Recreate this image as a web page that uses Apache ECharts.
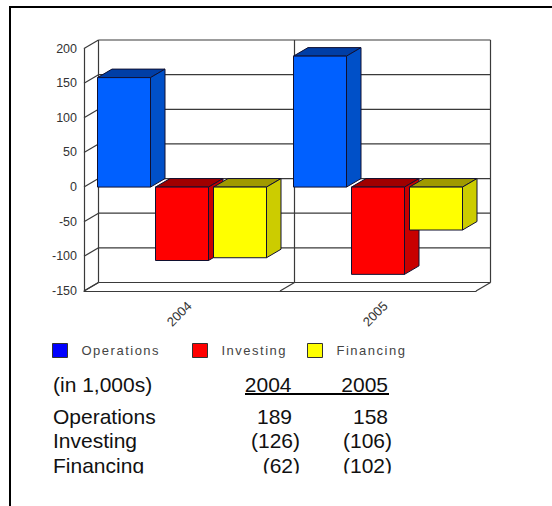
<!DOCTYPE html>
<html>
<head>
<meta charset="utf-8">
<script src="https://cdn.jsdelivr.net/npm/echarts@6/dist/echarts.min.js"></script>
<style>
  html, body { margin: 0; padding: 0; background: #fff; }
  #chart { width: 552px; height: 506px; }
  /* legend captions are set with wide tracking */
  #chart text[fill="#444"] { letter-spacing: 1.5px; }
</style>
</head>
<body>
<div id="chart"></div>
<script>
// Cash flow data
const years = ['2004', '2005'];
const seriesNames = ['Operations', 'Investing', 'Financing'];
const operations = [158, 189];
const investing = [-106, -126];
const financing = [-102, -62];
const yTicks = [-150, -100, -50, 0, 50, 100, 150, 200];

// Statement table under the chart
const tableUnit = '(in 1,000s)';
const tableYears = ['2004', '2005'];
const tableLabels = ['Operations', 'Investing', 'Financing'];
const table2004 = ['189', '(126)', '(62)'];
const table2005 = ['158', '(106)', '(102)'];

// Face colours per series: front, top, side, legend swatch
const palette = [
  { front: '#0060ff', top: '#003ea6', side: '#0050c8', swatch: '#0000ff' },
  { front: '#ff0000', top: '#a00000', side: '#c80000', swatch: '#ff0000' },
  { front: '#ffff00', top: '#a09a00', side: '#cccc00', swatch: '#ffff00' }
];

// Oblique projection used for the pseudo-3D box
const DX = 14.5, DY = -8.5;
const BAR_RATIO = 53 / 196, GAP_RATIO = 5 / 196;
const WALL = '#3a3a3a';
const EDGE = { stroke: '#101030', lineWidth: 1, lineJoin: 'miter' };

const seg = (x1, y1, x2, y2, color) => ({
  type: 'line',
  shape: { x1, y1, x2, y2 },
  style: { stroke: color || WALL, lineWidth: 1.2 }
});

// One horizontal wall line plus its diagonal per y tick
function renderTick(params, api) {
  const v = api.value(0);
  const p = api.coord([0, v]);
  const band = api.size([1, 0])[0];
  const x0 = p[0] - band / 2;
  const x1 = x0 + band * years.length;
  const y = p[1];
  return {
    type: 'group',
    children: [
      seg(x0, y, x0 + DX, y + DY),
      seg(x0 + DX, y + DY, x1 + DX, y + DY)
    ]
  };
}

// Walls: left, divider and right verticals, floor diagonals
function renderWall(params, api) {
  const i = api.value(0);
  const top = api.coord([0, 200])[1];
  const bottom = api.coord([0, -150])[1];
  const band = api.size([1, 0])[0];
  const x = api.coord([0, 0])[0] - band / 2 + band * i;
  return {
    type: 'group',
    children: [
      seg(x + DX, top + DY, x + DX, bottom + DY),
      seg(x, bottom, x + DX, bottom + DY)
    ]
  };
}

// A box drawn from its value on the front plane of the plot
function makeBox(seriesIndex) {
  return function (params, api) {
    const cat = api.value(0);
    const val = api.value(1);
    const c = palette[seriesIndex];
    const band = api.size([1, 0])[0];
    const w = band * BAR_RATIO;
    const gap = band * GAP_RATIO;
    const groupW = w * 3 + gap * 2;
    const center = api.coord([cat, 0])[0];
    const x0 = center - groupW / 2 + seriesIndex * (w + gap);
    const x1 = x0 + w;
    const yVal = api.coord([cat, val])[1];
    const yZero = api.coord([cat, 0])[1];
    const yTop = Math.min(yVal, yZero);
    const yBot = Math.max(yVal, yZero);
    return {
      type: 'group',
      children: [
        {
          type: 'polygon',
          shape: { points: [[x0, yTop], [x1, yTop], [x1 + DX, yTop + DY], [x0 + DX, yTop + DY]] },
          style: Object.assign({ fill: c.top }, EDGE)
        },
        {
          type: 'polygon',
          shape: { points: [[x1, yTop], [x1 + DX, yTop + DY], [x1 + DX, yBot + DY], [x1, yBot]] },
          style: Object.assign({ fill: c.side }, EDGE)
        },
        {
          type: 'rect',
          shape: { x: x0, y: yTop, width: w, height: yBot - yTop },
          style: Object.assign({ fill: c.front }, EDGE)
        }
      ]
    };
  };
}

const valueSets = [operations, investing, financing];

const boxSeries = seriesNames.map((name, s) => ({
  name,
  type: 'custom',
  coordinateSystem: 'cartesian2d',
  renderItem: makeBox(s),
  encode: { x: 0, y: 1 },
  itemStyle: { color: palette[s].swatch },
  data: years.map((y, i) => [i, valueSets[s][i]]),
  z: 5 + s,
  silent: true,
  clip: false
}));

const legendPositions = [52, 192, 307];
const legends = seriesNames.map((name, s) => ({
  show: true,
  left: legendPositions[s],
  top: 343,
  padding: 0,
  itemWidth: 15,
  itemHeight: 14,
  icon: 'rect',
  selectedMode: false,
  data: [{
    name,
    itemStyle: { color: palette[s].swatch, borderColor: '#333', borderWidth: 1 }
  }],
  textStyle: {
    color: '#444',
    fontFamily: 'Liberation Sans',
    fontSize: 13,
    padding: [0, 0, 0, 9]
  }
}));

// Table text, anchored on its baseline rows
const FONT = '21px "Liberation Sans"';
const headY = 384;
const rowY = [416, 440.5, 465];
const txt = (x, y, text, align) => ({
  type: 'text',
  z: 20,
  style: {
    x, y, text,
    font: FONT,
    fill: '#111',
    align: align || 'left',
    verticalAlign: 'middle'
  }
});

const tableItems = [
  txt(53, headY, tableUnit),
  txt(291.5, headY, tableYears[0], 'right'),
  txt(388, headY, tableYears[1], 'right'),
  {
    type: 'rect',
    z: 20,
    shape: { x: 245, y: 393, width: 144, height: 2 },
    style: { fill: '#000' }
  }
];
tableLabels.forEach((label, r) => {
  const inParens = table2004[r].startsWith('(');
  tableItems.push(txt(53, rowY[r], label));
  tableItems.push(txt(inParens ? 300 : 292, rowY[r], table2004[r], 'right'));
  tableItems.push(txt(table2005[r].startsWith('(') ? 392 : 388, rowY[r], table2005[r], 'right'));
});

const chart = echarts.init(document.getElementById('chart'), null, { renderer: 'svg' });
chart.setOption({
  animation: false,
  backgroundColor: '#fff',
  grid: { left: 84, width: 392, top: 48.5, height: 242.5 },
  xAxis: {
    type: 'category',
    data: years,
    position: 'bottom',
    axisLine: { onZero: false, lineStyle: { color: WALL, width: 1.2 } },
    axisTick: { show: false },
    splitLine: { show: false },
    axisLabel: {
      rotate: 45,
      margin: 20,
      align: 'center',
      verticalAlign: 'middle',
      padding: [0, 8, 0, 0],
      color: '#333',
      fontFamily: 'Liberation Sans',
      fontSize: 13
    }
  },
  yAxis: {
    type: 'value',
    min: -150,
    max: 200,
    interval: 50,
    axisLine: { show: true, lineStyle: { color: WALL, width: 1.2 } },
    axisTick: { show: false },
    splitLine: { show: false },
    axisLabel: {
      margin: 7,
      color: '#333',
      fontFamily: 'Liberation Sans',
      fontSize: 12.5
    }
  },
  legend: legends,
  series: [
    {
      type: 'custom',
      name: 'ticks',
      renderItem: renderTick,
      encode: { y: 0 },
      data: yTicks.map(v => [v]),
      z: 1,
      silent: true,
      clip: false
    },
    {
      type: 'custom',
      name: 'walls',
      renderItem: renderWall,
      encode: { x: 0 },
      data: [[0], [1], [2]],
      z: 1,
      silent: true,
      clip: false
    }
  ].concat(boxSeries),
  graphic: {
    elements: tableItems.concat([
      // The last table row is cut off by the box it was set in
      { type: 'rect', z: 30, shape: { x: 0, y: 473.5, width: 552, height: 33 }, style: { fill: '#fff' } },
      // Frame along the top and left edges
      { type: 'rect', z: 31, shape: { x: 9, y: 6, width: 543, height: 2 }, style: { fill: '#000' } },
      { type: 'rect', z: 31, shape: { x: 9, y: 6, width: 2, height: 500 }, style: { fill: '#000' } }
    ])
  }
});
</script>
</body>
</html>
